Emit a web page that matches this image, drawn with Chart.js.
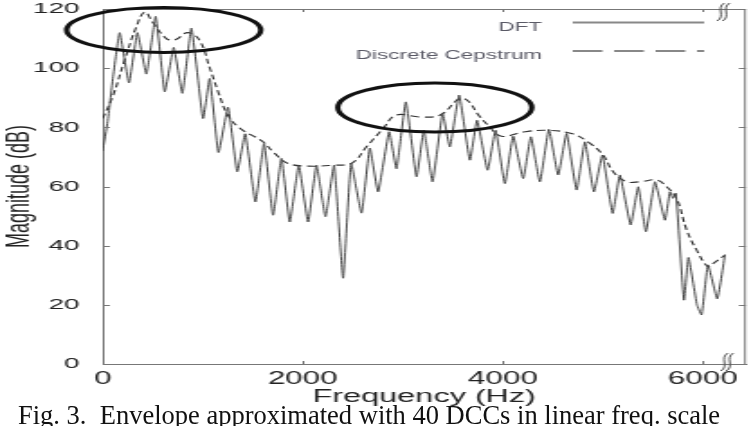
<!DOCTYPE html>
<html>
<head>
<meta charset="utf-8">
<script src="https://cdn.jsdelivr.net/npm/chart.js@4.4.0/dist/chart.umd.min.js"></script>
<style>
  html, body { margin: 0; padding: 0; background: #fff; overflow: hidden; }
  #wrap { position: relative; width: 751px; height: 426px; }
  #chart { position: absolute; left: 0; top: 0; }
  #caption { position: absolute; left: 18px; top: 402px; font-family: 'Liberation Serif', serif; font-size: 26.5px; line-height: 26px; white-space: pre; color: #111; }
</style>
</head>
<body>
<div id="wrap">
  <!-- the figure is stretched sideways like the scanned original -->
  <canvas id="chart" width="417" height="426" style="width:751px;height:426px"></canvas>
  <div id="caption">Fig. 3.  Envelope approximated with 40 DCCs in linear freq. scale</div>
</div>
<script>
// DFT magnitude (harmonic peaks and valleys)
const freqDft = [0, 50, 100, 170, 263, 347, 437, 530, 620, 710, 797, 887, 1003, 1070, 1157, 1253, 1345, 1425, 1527, 1613,
    1703, 1787, 1870, 1960, 2053, 2137, 2227, 2313, 2403, 2483, 2587, 2670, 2753, 2863, 2937, 3030, 3137, 3210, 3297, 3397,
    3470, 3563, 3670, 3742, 3847, 3927, 4020, 4103, 4203, 4280, 4370, 4460, 4553, 4637, 4737, 4820, 4910, 4995, 5097, 5170,
    5277, 5353, 5430, 5520, 5620, 5670, 5700, 5730, 5810, 5855, 5940, 5987, 6050, 6143, 6220];
const magDft = [72, 82, 96, 112, 95, 112, 98, 117.5, 92, 107, 91.5, 113.5, 83, 96.5, 71.5, 86.8, 65, 77.8, 54.8, 74.5,
    50.3, 69.5, 48, 67.2, 48, 67.2, 49.8, 67.2, 29, 67.8, 51, 73, 58.2, 78.5, 66, 88.6, 63.3, 79, 61.6, 84.7,
    73.4, 90.9, 68.9, 82.4, 65.5, 79, 61, 77, 62.7, 76.8, 61.6, 79.3, 63.9, 77.9, 58.8, 75.1, 58.2, 70.6, 50.9, 63.9,
    47, 59.9, 44.7, 61.6, 48.6, 58.2, 56, 57.7, 21.6, 36, 20, 16.6, 33.5, 22, 37];

// Discrete cepstrum envelope
const freqCep = [0, 100, 220, 337, 420, 500, 637, 720, 850, 967, 1067, 1160, 1253, 1387, 1587, 1720, 1853, 2053, 2320, 2487,
    2637, 2803, 2940, 3170, 3370, 3570, 3650, 3760, 3853, 3987, 4220, 4450, 4687, 4850, 5003, 5103, 5237, 5370, 5537, 5637,
    5737, 5837, 5937, 6050, 6103, 6220];
const magCep = [83, 90.4, 102.8, 114, 119, 115.5, 110, 109.5, 112, 109.5, 100.4, 91.5, 84, 79.3, 75.5, 71.2, 67.8, 66.9, 67.2, 67.8,
    73.4, 79.6, 84.2, 83.5, 84.1, 89.8, 89, 84, 80.7, 77, 78.5, 79, 77.9, 75.1, 70.6, 65, 61.6, 61.6, 62.2, 59.9,
    55.9, 45.3, 38.5, 32.9, 34, 36.8];

const xTicks = [0, 2000, 4000, 6000];
const yTicks = [0, 20, 40, 60, 80, 100, 120];

// circled regions (centre and half-size, data units)
const ringFreq = [610, 3320];
const ringMag = [112.9, 86.7];
const ringFreqHalf = [970, 970];
const ringMagHalf = [7.6, 8.3];

const legendNames = ['DFT', 'Discrete Cepstrum'];

Chart.defaults.font.family = "'Liberation Sans', Arial, sans-serif";

function squiggle(ctx, x, y) {
    for (const dx of [0, 3]) {
        ctx.beginPath();
        ctx.moveTo(x + dx - 2, y + 9);
        ctx.bezierCurveTo(x + dx + 3, y + 4, x + dx - 3, y - 4, x + dx + 2, y - 9);
        ctx.stroke();
    }
}

// Frame, inward ticks, legend and ellipses
const extras = {
    id: 'extras',
    afterDraw(chart) {
        const { ctx, chartArea: a, scales: { x, y } } = chart;
        ctx.save();
        ctx.strokeStyle = '#777';
        ctx.lineWidth = 1;
        ctx.beginPath();
        ctx.moveTo(a.left, a.top + 0.5);
        ctx.lineTo(a.right, a.top + 0.5);
        ctx.moveTo(a.right - 0.5, a.top);
        ctx.lineTo(a.right - 0.5, a.bottom);
        yTicks.slice(1, -1).forEach(v => {
            const py = Math.round(y.getPixelForValue(v)) + 0.5;
            ctx.moveTo(a.left, py);
            ctx.lineTo(a.left + 4, py);
            ctx.moveTo(a.right - 4, py);
            ctx.lineTo(a.right, py);
        });
        xTicks.slice(1).forEach(v => {
            const px = Math.round(x.getPixelForValue(v)) + 0.5;
            ctx.moveTo(px, a.bottom);
            ctx.lineTo(px, a.bottom - 3);
            ctx.moveTo(px, a.top);
            ctx.lineTo(px, a.top + 3);
        });
        ctx.stroke();

        // axis break marks
        ctx.strokeStyle = '#555';
        squiggle(ctx, a.right - 14, a.top + 3);
        squiggle(ctx, a.right - 12, a.bottom - 2);

        // legend
        ctx.font = "12.5px 'Liberation Sans', Arial, sans-serif";
        ctx.fillStyle = '#5a5a66';
        ctx.textAlign = 'right';
        ctx.textBaseline = 'middle';
        const rows = [a.top + 19, a.top + 47];
        legendNames.forEach((name, i) => ctx.fillText(name, 301, rows[i]));
        ctx.strokeStyle = '#888';
        ctx.lineWidth = 2;
        ctx.beginPath();
        ctx.moveTo(318, a.top + 13.5);
        ctx.lineTo(391, a.top + 13.5);
        ctx.stroke();
        ctx.setLineDash([16.5, 6.5]);
        ctx.beginPath();
        ctx.moveTo(318, a.top + 42);
        ctx.lineTo(391, a.top + 42);
        ctx.stroke();
        ctx.setLineDash([]);

        // ellipses
        ctx.strokeStyle = '#111';
        ctx.lineWidth = 3;
        ringFreq.forEach((f, i) => {
            const cx = x.getPixelForValue(f);
            const cy = y.getPixelForValue(ringMag[i]);
            const rx = x.getPixelForValue(f + ringFreqHalf[i]) - cx;
            const ry = cy - y.getPixelForValue(ringMag[i] + ringMagHalf[i]);
            ctx.beginPath();
            ctx.ellipse(cx, cy, rx, ry, 0, 0, Math.PI * 2);
            ctx.stroke();
        });
        ctx.restore();
    }
};

const ctx = document.getElementById('chart').getContext('2d');
new Chart(ctx, {
    type: 'line',
    data: {
        datasets: [
            {
                label: 'DFT',
                data: freqDft.map((f, i) => ({ x: f, y: magDft[i] })),
                borderColor: '#4a4a4a',
                borderWidth: 1,
                pointRadius: 0,
                tension: 0.12,
                fill: false
            },
            {
                label: 'Discrete Cepstrum',
                data: freqCep.map((f, i) => ({ x: f, y: magCep[i] })),
                borderColor: '#333',
                borderWidth: 1.1,
                borderDash: [5, 3],
                pointRadius: 0,
                tension: 0.4,
                fill: false
            }
        ]
    },
    options: {
        responsive: false,
        animation: false,
        devicePixelRatio: 1,
        layout: {
            padding: { left: 0, right: 2.8, top: 9, bottom: 0 }
        },
        plugins: {
            legend: { display: false },
            tooltip: { enabled: false }
        },
        scales: {
            x: {
                type: 'linear',
                min: 0,
                max: 6430,
                afterBuildTicks: s => { s.ticks = xTicks.map(v => ({ value: v })); },
                afterFit: s => { s.height = 62; },
                grid: { display: false, drawTicks: false },
                border: { color: '#777' },
                ticks: {
                    padding: 6,
                    color: '#222',
                    font: { size: 17.5, lineHeight: 1 },
                    callback: v => String(v)
                },
                title: {
                    display: true,
                    text: 'Frequency (Hz)',
                    color: '#222',
                    font: { size: 18 },
                    padding: { top: 0, bottom: 18 }
                }
            },
            y: {
                min: 0,
                max: 120,
                afterBuildTicks: s => { s.ticks = yTicks.map(v => ({ value: v })); },
                // fixed axis width, and no extra room above the top label
                afterFit: s => {
                    s.width = 57;
                    s.paddingTop = 0;
                    s.paddingBottom = 0;
                },
                grid: { display: false, drawTicks: false },
                border: { color: '#777' },
                ticks: {
                    padding: 12.8,
                    color: '#222',
                    font: { size: 15.5, lineHeight: 1 },
                    callback: v => String(v)
                },
                title: {
                    display: true,
                    text: 'Magnitude (dB)',
                    color: '#222',
                    font: { size: 18 },
                    padding: { top: 0, bottom: 0 }
                }
            }
        }
    },
    plugins: [extras]
});
</script>
</body>
</html>
